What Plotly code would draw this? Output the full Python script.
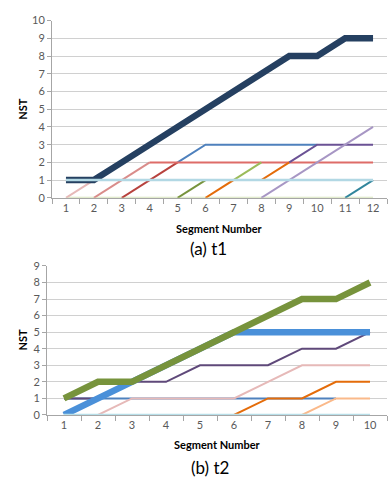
import plotly.graph_objects as go

# ---------------- Data: chart (a) t1 ----------------
segments_a = ["1", "2", "3", "4", "5", "6", "7", "8", "9", "10", "11", "12"]
a_baseline = [0, 0, 0, 0, 0, 0, 0, 0, 0, 0, 0, 0]
a_pink = [0, 1, None, None, None, None, None, None, None, None, None, None]
a_rose = [None, 0, 1, 2, None, None, None, None, None, None, None, None]
a_darkred = [None, None, 0, 1, 2, None, None, None, None, None, None, None]
a_red = [None, None, None, 2, 2, 2, 2, 2, 2, 2, 2, 2]
a_blue = [None, None, None, None, 2, 3, 3, 3, 3, 3, None, None]
a_olive = [None, None, None, None, 0, 1, None, None, None, None, None, None]
a_green = [None, None, None, None, None, None, 1, 2, None, None, None, None]
a_orange = [None, None, None, None, None, 0, 1, 1, 2, None, None, None]
a_purple = [None, None, None, None, None, None, None, None, 2, 3, 3, 3]
a_lavender = [None, None, None, None, None, None, None, 0, 1, 2, 3, 4]
a_teal = [None, None, None, None, None, None, None, None, None, None, 0, 1]
a_navy = [1, 1, 2, 3, 4, 5, 6, 7, 8, 8, 9, 9]
a_lightblue = [1, 1, 1, 1, 1, 1, 1, 1, 1, 1, 1, 1]
a_yticks = [0, 1, 2, 3, 4, 5, 6, 7, 8, 9, 10]

# ---------------- Data: chart (b) t2 ----------------
segments_b = ["1", "2", "3", "4", "5", "6", "7", "8", "9", "10"]
b_lightblue = [0, 0, 0, 0, 0, 0, 0, 0, 0, 0]
b_blue_thin = [1, 1, 1, 1, 1, 1, 1, 1, 1, None]
b_pink = [None, 0, 1, 1, 1, 1, 2, 3, 3, 3]
b_orange = [None, None, None, None, None, 0, 1, 1, 2, 2]
b_lightorange = [None, None, None, None, None, None, None, 0, 1, 1]
b_purple = [1, 1, 2, 2, 3, 3, 3, 4, 4, 5]
b_blue_thick = [0, 1, 2, 3, 4, 5, 5, 5, 5, 5]
b_green_thick = [1, 2, 2, 3, 4, 5, 6, 7, 7, 8]
b_yticks = [0, 1, 2, 3, 4, 5, 6, 7, 8, 9]

fig = go.Figure()


def add(x, y, color, width, xa, ya):
    fig.add_trace(go.Scatter(x=x, y=y, mode="lines", xaxis=xa, yaxis=ya,
                             line=dict(color=color, width=width),
                             connectgaps=False, showlegend=False,
                             hoverinfo="skip"))


# chart (a) traces
add(segments_a, a_baseline, "#D7E4BD", 2, "x", "y")
add(segments_a, a_pink, "#E6B9B8", 2, "x", "y")
add(segments_a, a_rose, "#D98C8A", 2, "x", "y")
add(segments_a, a_darkred, "#B7413D", 2, "x", "y")
add(segments_a, a_blue, "#4F81BD", 2, "x", "y")
add(segments_a, a_red, "#DE6C68", 2, "x", "y")
add(segments_a, a_olive, "#77933C", 2, "x", "y")
add(segments_a, a_green, "#9BBB59", 2, "x", "y")
add(segments_a, a_orange, "#E46C0A", 2, "x", "y")
add(segments_a, a_purple, "#6B5295", 2, "x", "y")
add(segments_a, a_lavender, "#A796C4", 2, "x", "y")
add(segments_a, a_teal, "#31859C", 2, "x", "y")
add(segments_a, a_navy, "#254061", 6.5, "x", "y")
add(segments_a, a_lightblue, "#B2D8E4", 2.5, "x", "y")

# chart (b) traces
add(segments_b, b_blue_thin, "#4F81BD", 2, "x2", "y2")
add(segments_b, b_pink, "#E6B9B8", 2, "x2", "y2")
add(segments_b, b_orange, "#E46C0A", 2, "x2", "y2")
add(segments_b, b_lightorange, "#FAB98A", 2, "x2", "y2")
add(segments_b, b_purple, "#5F497A", 2, "x2", "y2")
add(segments_b, b_blue_thick, "#4A90D9", 6.5, "x2", "y2")
add(segments_b, b_green_thick, "#77933C", 6.5, "x2", "y2")
add(segments_b, b_lightblue, "#B7DEE8", 2.5, "x2", "y2")

tickfont = dict(family="Lato, Open Sans, sans-serif", size=11, color="#595959")
titlefont = dict(family="Lato, Open Sans, sans-serif", size=11, color="#000000")

xcommon = dict(type="category", tickson="boundaries", ticks="outside", ticklen=5,
               tickcolor="#A6A6A6", showline=True, linecolor="#A6A6A6",
               linewidth=1, showgrid=False, tickfont=tickfont, fixedrange=True,
               layer="below traces")
ycommon = dict(ticks="outside", ticklen=4, tickcolor="#A6A6A6", showline=True,
               linecolor="#A6A6A6", linewidth=1, showgrid=True,
               gridcolor="#D0D0D0", gridwidth=1, tickfont=tickfont,
               zeroline=False, fixedrange=True, layer="below traces")

W, H = 392, 492
fig.update_layout(
    width=W, height=H, margin=dict(l=0, r=0, t=0, b=0),
    paper_bgcolor="white", plot_bgcolor="white",
    xaxis=dict(**xcommon, domain=[52 / W, 387 / W], anchor="y",
               range=[-0.5, 11.5]),
    yaxis=dict(**ycommon, domain=[1 - 196 / H, 1 - 14 / H], anchor="x",
               range=[0, 10], tickvals=a_yticks),
    xaxis2=dict(**xcommon, domain=[47 / W, 387 / W], anchor="y2",
                range=[-0.5, 9.5]),
    yaxis2=dict(**ycommon, domain=[1 - 419 / H, 1 - 266 / H], anchor="x2",
                range=[0, 9], tickvals=b_yticks),
)

annos = [
    dict(text="<b>NST</b>", x=22.5 / W, y=1 - 105 / H, textangle=-90),
    dict(text="<b>Segment Number</b>", x=219 / W, y=1 - 227 / H),
    dict(text="<b>NST</b>", x=22.5 / W, y=1 - 342 / H, textangle=-90),
    dict(text="<b>Segment Number</b>", x=217 / W, y=1 - 449 / H),
]
for a in annos:
    fig.add_annotation(xref="paper", yref="paper", showarrow=False,
                       xanchor="center", yanchor="middle", font=titlefont, **a)

capfont = dict(family="Lato, Open Sans, sans-serif", size=17, color="#000000")
fig.add_annotation(text="(a) t1", xref="paper", yref="paper", x=208 / W,
                   y=1 - 248 / H, showarrow=False, font=capfont,
                   xanchor="center", yanchor="middle")
fig.add_annotation(text="(b) t2", xref="paper", yref="paper", x=210 / W,
                   y=1 - 473 / H, showarrow=False, font=capfont,
                   xanchor="center", yanchor="middle")

fig.write_html("out.html")
